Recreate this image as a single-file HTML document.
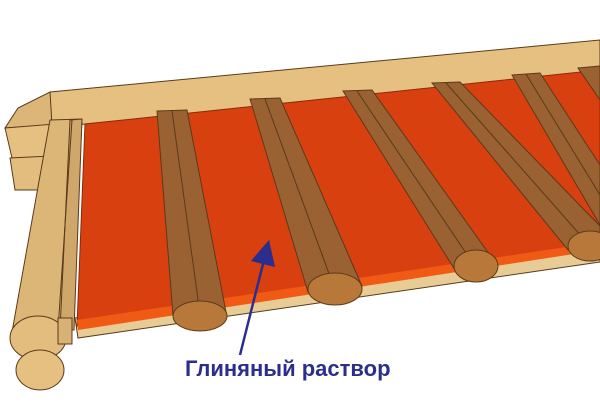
<!DOCTYPE html>
<html><head><meta charset="utf-8"><style>
html,body{margin:0;padding:0;background:#fff;width:600px;height:407px;overflow:hidden}
</style></head><body>
<svg width="600" height="407" viewBox="0 0 600 407" xmlns="http://www.w3.org/2000/svg">
<defs>
<marker id="ah" markerWidth="10" markerHeight="10" refX="5" refY="5" orient="auto">
<path d="M0,0 L10,5 L0,10 z" fill="#2b2e8c"/></marker>
</defs>
<g stroke="#5a3a1a" stroke-width="1">
<polygon points="50,92 600,40 600,76 85,124 40,130" fill="#e6c081"/>
<polygon points="5,128 18,108 50,92 52,125" fill="#dcb678"/>
<polygon points="5,128 55,124 50,157 12,158" fill="#e6c081"/>
<polygon points="10,158 50,156 45,190 15,190" fill="#e3bd7e"/>
<polygon points="75,318 600,238 600,262 78,338" fill="#e8cc96"/>
<polygon points="85,124 600,70 600,248 77,326" fill="#d9400f" stroke="#8a2a08"/>
<polygon points="77,320 600,242 600,250 78,330" fill="#f05a14" stroke="none"/>
<g>
<polygon points="157,111 187,110 226,312 173,316" fill="#9a6232"/>
<line x1="172" y1="111" x2="200" y2="314"/>
<ellipse cx="200" cy="316" rx="27" ry="15" fill="#b8783a"/>
</g>
<g>
<polygon points="250,99 280,98 362,286 308,292" fill="#9a6232"/>
<line x1="265" y1="99" x2="335" y2="290"/>
<ellipse cx="335" cy="289" rx="27" ry="16" fill="#b8783a"/>
</g>
<g>
<polygon points="343,91 372,90 497,265 455,270" fill="#9a6232"/>
<line x1="357" y1="91" x2="476" y2="268"/>
<ellipse cx="476" cy="266" rx="22" ry="16" fill="#b8783a"/>
</g>
<g>
<polygon points="432,83 460,82 600,226 600,250 568,250" fill="#9a6232"/>
<line x1="446" y1="83" x2="590" y2="246"/>
<ellipse cx="590" cy="246" rx="22" ry="15" fill="#b8783a"/>
</g>
<g>
<polygon points="512,75 540,73 600,165 600,225" fill="#9a6232"/>
<line x1="526" y1="74" x2="600" y2="195"/>
</g>
<polygon points="578,68 600,66 600,100" fill="#9a6232"/>
<polygon points="50,120 82,119 72,330 12,332" fill="#dcb677"/>
<polygon points="70,120 82,119 74,330 60,330" fill="#cfa76a"/>
<line x1="72" y1="120" x2="58" y2="330"/>
<ellipse cx="38" cy="338" rx="28" ry="22" fill="#e3bd7e"/>
<ellipse cx="40" cy="370" rx="24" ry="20" fill="#e6c081"/>
<rect x="58" y="318" width="14" height="26" fill="#d8b275"/>
</g>
<line x1="240" y1="355" x2="266" y2="252" stroke="#2b2e8c" stroke-width="2.5" marker-end="url(#ah)"/>
<text x="185" y="376" font-family="Liberation Sans, sans-serif" font-weight="bold" font-size="22" fill="#2b2e8c">Глиняный раствор</text>
</svg>
</body></html>
